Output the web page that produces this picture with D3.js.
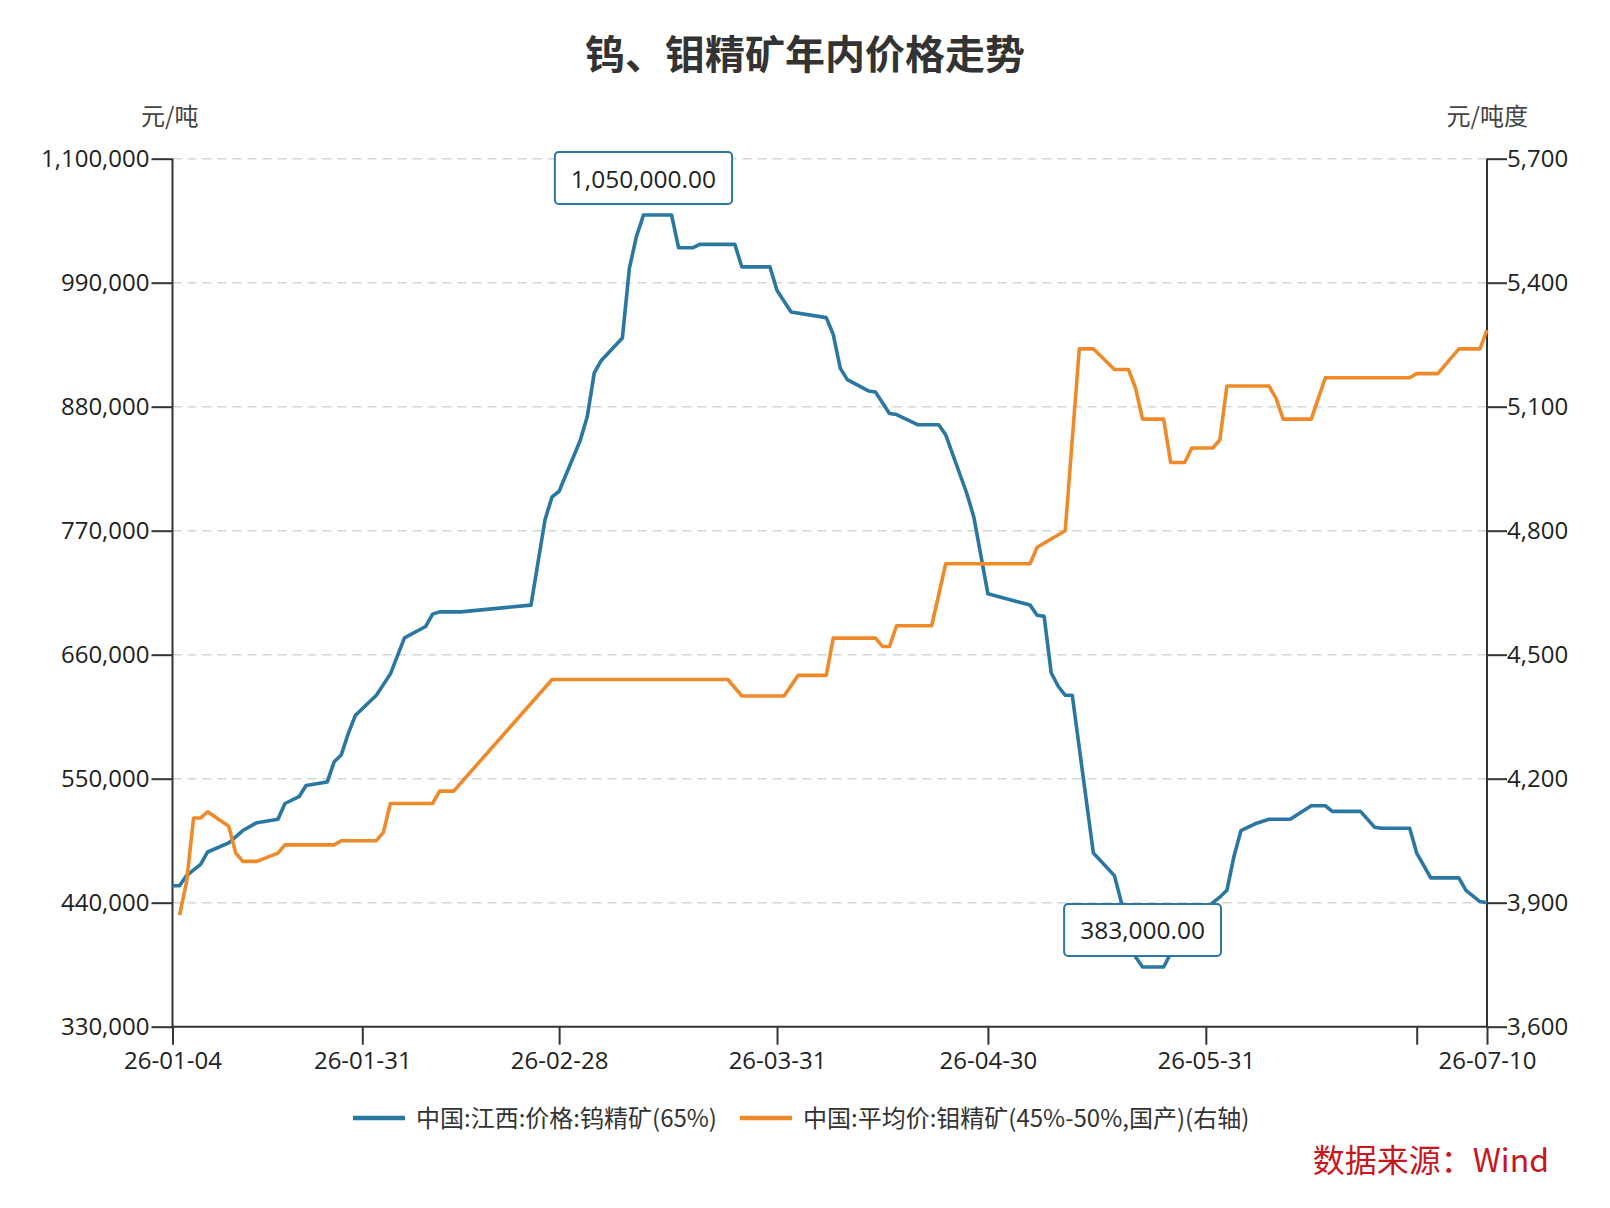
<!DOCTYPE html>
<meta charset="utf-8" />
<script src="https://d3js.org/d3.v7.min.js"></script>
<head>
<style type="text/css">
  body { margin: 0; background: #ffffff; }
  svg text { font-family: 'Segoe UI', 'Open Sans', 'Noto Sans CJK SC', sans-serif; fill: #222; }
  .title { font-family: 'Noto Sans CJK SC', sans-serif; font-weight: bold; font-size: 40px; fill: #333; }
  .unit { font-family: 'Noto Sans CJK SC', sans-serif; font-size: 24px; fill: #444; }
  .tick text { font-size: 24px; fill: #222; }
  .legend-text { font-family: 'Noto Sans CJK SC', sans-serif; font-size: 24px; fill: #333; }
  .source { font-family: 'Noto Sans CJK SC', sans-serif; font-size: 32px; fill: #c8161d; }
</style>
</head>
<body>
<svg id="chart" width="1610" height="1208"></svg>

<script>
  // 钨精矿 (left axis, 元/吨)
  const tungstenDates = ["2026-01-04","2026-01-05","2026-01-06","2026-01-08","2026-01-09","2026-01-12","2026-01-14","2026-01-16",
    "2026-01-19","2026-01-20","2026-01-22","2026-01-23","2026-01-26","2026-01-27","2026-01-28","2026-01-29","2026-01-30",
    "2026-02-02","2026-02-04","2026-02-06","2026-02-09","2026-02-10","2026-02-11","2026-02-14","2026-02-24","2026-02-25",
    "2026-02-26","2026-02-27","2026-02-28","2026-03-03","2026-03-04","2026-03-05","2026-03-06","2026-03-09","2026-03-10",
    "2026-03-11","2026-03-12","2026-03-16","2026-03-17","2026-03-19","2026-03-20","2026-03-25","2026-03-26","2026-03-30",
    "2026-03-31","2026-04-02","2026-04-07","2026-04-08","2026-04-09","2026-04-10","2026-04-13","2026-04-14","2026-04-16",
    "2026-04-17","2026-04-20","2026-04-23","2026-04-24","2026-04-27","2026-04-28","2026-04-30","2026-05-06","2026-05-07",
    "2026-05-08","2026-05-09","2026-05-10","2026-05-11","2026-05-12","2026-05-15","2026-05-18","2026-05-19","2026-05-21",
    "2026-05-22","2026-05-25","2026-05-26","2026-05-29","2026-06-01","2026-06-02","2026-06-03","2026-06-04","2026-06-05",
    "2026-06-07","2026-06-09","2026-06-12","2026-06-15","2026-06-17","2026-06-18","2026-06-22","2026-06-24","2026-06-25",
    "2026-06-29","2026-06-30","2026-07-02","2026-07-06","2026-07-07","2026-07-09","2026-07-10"];
  const tungstenPrices = [455000,455000,464000,474000,485000,493000,504000,511000,
    514000,528000,534000,544000,547000,565000,571000,590000,606000,
    624000,643000,675000,685000,696000,698000,698000,704000,742000,
    780000,800000,805000,850000,871000,910000,921000,941000,1003000,
    1031000,1050000,1050000,1021000,1021000,1024000,1024000,1004000,1004000,
    983000,964000,959000,944000,914000,904000,894000,893000,874000,
    873000,864000,864000,855000,803000,782000,714000,704000,695000,
    694000,644000,632000,624000,624000,484000,464000,440000,392000,
    383000,383000,395000,420000,440000,445000,451000,481000,504000,
    510000,514000,514000,526000,526000,521000,521000,507000,506000,
    506000,484000,462000,462000,451000,441000,440000];

  // 钼精矿 (right axis, 元/吨度)
  const molyDates = ["2026-01-05","2026-01-06","2026-01-07","2026-01-08","2026-01-09","2026-01-12","2026-01-13","2026-01-14",
    "2026-01-16","2026-01-19","2026-01-20","2026-01-27","2026-01-28","2026-02-02","2026-02-03","2026-02-04","2026-02-10",
    "2026-02-11","2026-02-13","2026-02-27","2026-03-24","2026-03-26","2026-04-01","2026-04-03","2026-04-07","2026-04-08",
    "2026-04-14","2026-04-15","2026-04-16","2026-04-17","2026-04-22","2026-04-24","2026-05-06","2026-05-07","2026-05-11",
    "2026-05-13","2026-05-15","2026-05-18","2026-05-20","2026-05-21","2026-05-22","2026-05-25","2026-05-26","2026-05-28",
    "2026-05-29","2026-06-01","2026-06-02","2026-06-03","2026-06-09","2026-06-10","2026-06-11","2026-06-15","2026-06-17",
    "2026-06-29","2026-06-30","2026-07-03","2026-07-06","2026-07-09","2026-07-10"];
  const molyPrices = [3870,3950,4105,4105,4120,4085,4020,4000,
    4000,4020,4040,4040,4050,4050,4070,4140,4140,
    4170,4170,4440,4440,4400,4400,4450,4450,4540,
    4540,4520,4520,4570,4570,4720,4720,4760,4800,
    5240,5240,5190,5190,5145,5070,5070,4965,4965,
    5000,5000,5020,5150,5150,5120,5070,5070,5170,
    5170,5180,5180,5240,5240,5285];

  const leftTicks = [330000,440000,550000,660000,770000,880000,990000,1100000];
  const rightTicks = [3600,3900,4200,4500,4800,5100,5400,5700];
  const xTickDates = ["2026-01-04","2026-01-31","2026-02-28","2026-03-31","2026-04-30","2026-05-31","2026-06-30","2026-07-10"];
  const hiddenXLabel = "26-06-30";

  const seriesNames = ["中国:江西:价格:钨精矿(65%)", "中国:平均价:钼精矿(45%-50%,国产)(右轴)"];
  const seriesColors = ["#2a77a1", "#ef8a2b"];

  const svg = d3.select("#chart");
  const parse = d3.timeParse("%Y-%m-%d");

  const plotLeft = 172.5, plotRight = 1487, plotTop = 158.7, plotBottom = 1026.7;

  const x = d3.scaleTime()
    .domain([parse("2026-01-04"), parse("2026-07-10")])
    .range([plotLeft, plotRight]);
  const yL = d3.scaleLinear().domain([330000, 1100000]).range([plotBottom, plotTop]);
  const yR = d3.scaleLinear().domain([3600, 5700]).range([plotBottom, plotTop]);

  const tungsten = tungstenDates.map((d, i) => ({ date: parse(d), value: tungstenPrices[i] }));
  const moly = molyDates.map((d, i) => ({ date: parse(d), value: molyPrices[i] }));

  // title + units
  svg.append("text").attr("class", "title")
    .attr("x", 805).attr("y", 52).attr("text-anchor", "middle").attr("dominant-baseline", "central")
    .text("钨、钼精矿年内价格走势");
  svg.append("text").attr("class", "unit")
    .attr("x", 141).attr("y", 114).attr("dominant-baseline", "central").text("元/吨");
  svg.append("text").attr("class", "unit")
    .attr("x", 1528).attr("y", 114).attr("text-anchor", "end").attr("dominant-baseline", "central").text("元/吨度");

  // grid lines
  svg.append("g")
    .selectAll("line")
    .data(leftTicks.slice(1))
    .enter()
    .append("line")
    .attr("x1", plotLeft).attr("x2", plotRight)
    .attr("y1", d => yL(d)).attr("y2", d => yL(d))
    .style("stroke", "#d6d6d6")
    .style("stroke-width", 1.6)
    .style("stroke-dasharray", "9,6");

  // axes
  const axisLeft = d3.axisLeft(yL).tickValues(leftTicks).tickSize(21).tickPadding(2).tickFormat(d3.format(","));
  const axisRight = d3.axisRight(yR).tickValues(rightTicks).tickSize(20).tickPadding(0).tickFormat(d3.format(","));
  const fmt = d3.timeFormat("%y-%m-%d");
  const axisBottom = d3.axisBottom(x)
    .tickValues(xTickDates.map(parse))
    .tickSize(18).tickPadding(7)
    .tickFormat(d => fmt(d) === hiddenXLabel ? "" : fmt(d));

  function styleAxis(g) {
    g.selectAll("path, line").style("stroke", "#333").style("stroke-width", 2);
    g.selectAll("text").attr("fill", "#222").style("font-size", "24px");
  }

  svg.append("g").attr("transform", `translate(${plotLeft},0)`).call(axisLeft)
    .call(g => g.select(".domain").attr("d", `M0,${plotTop}V${plotBottom}`))
    .call(styleAxis);
  svg.append("g").attr("transform", `translate(${plotRight},0)`).call(axisRight)
    .call(g => g.select(".domain").attr("d", `M0,${plotTop}V${plotBottom}`))
    .call(styleAxis);
  svg.append("g").attr("transform", `translate(0,${plotBottom})`).call(axisBottom)
    .call(g => g.select(".domain").attr("d", `M${plotLeft},0H${plotRight}`))
    .call(styleAxis);

  // lines
  const lineL = d3.line().x(d => x(d.date)).y(d => yL(d.value));
  const lineR = d3.line().x(d => x(d.date)).y(d => yR(d.value));

  svg.append("path").datum(tungsten)
    .attr("d", lineL)
    .attr("fill", "none")
    .style("stroke", seriesColors[0]).style("stroke-width", 3.6)
    .style("stroke-linejoin", "round");
  svg.append("path").datum(moly)
    .attr("d", lineR)
    .attr("fill", "none")
    .style("stroke", seriesColors[1]).style("stroke-width", 3.6)
    .style("stroke-linejoin", "round");

  // max / min labels on the tungsten line
  const maxV = d3.max(tungstenPrices), minV = d3.min(tungstenPrices);
  const marks = [tungsten.find(d => d.value === maxV), tungsten.find(d => d.value === minV)];
  marks.forEach(function (m) {
    const cx = x(m.date), cy = yL(m.value);
    const g = svg.append("g");
    const t = g.append("text")
      .attr("x", cx).attr("y", cy - 11 - 26)
      .attr("text-anchor", "middle").attr("dominant-baseline", "central")
      .style("font-size", "24.5px").attr("fill", "#222")
      .text(d3.format(",.2f")(m.value));
    const w = t.node().getBBox().width + 32;
    g.insert("rect", "text")
      .attr("x", cx - w / 2).attr("y", cy - 11 - 52)
      .attr("width", w).attr("height", 52)
      .attr("rx", 4)
      .attr("fill", "white")
      .style("stroke", seriesColors[0]).style("stroke-width", 2);
  });

  // legend
  const legend = svg.append("g");
  const legendX = [353, 740];
  seriesNames.forEach(function (name, i) {
    legend.append("line")
      .attr("x1", legendX[i]).attr("x2", legendX[i] + 52)
      .attr("y1", 1118).attr("y2", 1118)
      .style("stroke", seriesColors[i]).style("stroke-width", 4.5);
    legend.append("text").attr("class", "legend-text")
      .attr("x", legendX[i] + 63).attr("y", 1116)
      .attr("dominant-baseline", "central")
      .text(name);
  });

  svg.append("text").attr("class", "source")
    .attr("x", 1549).attr("y", 1158).attr("text-anchor", "end").attr("dominant-baseline", "central")
    .text("数据来源：Wind");
</script>
</body>
</html>
